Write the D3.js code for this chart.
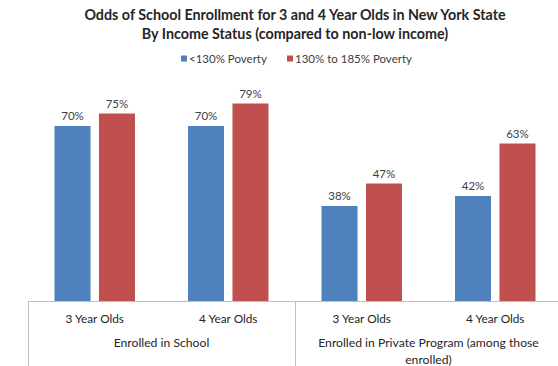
<!DOCTYPE html>
<html>
<head>
<meta charset="utf-8">
<script src="https://cdn.jsdelivr.net/npm/d3@7"></script>
<style>
  body { margin: 0; background: #fff; }
  svg { font-family: Lato, "Open Sans", sans-serif; }
</style>
</head>
<body>
<script>
let titleLines = ["Odds of School Enrollment for 3 and 4 Year Olds in New York State",
                  "By Income Status (compared to non-low income)"];
let seriesNames = ["<130% Poverty", "130% to 185% Poverty"];
let seriesColors = ["#4f81bd", "#c0504d"];
let ageLabels = ["3 Year Olds", "4 Year Olds", "3 Year Olds", "4 Year Olds"];
let groupLabels = [["Enrolled in School"], ["Enrolled in Private Program (among those", "enrolled)"]];
let below130 = [0.70, 0.70, 0.38, 0.42];
let from130to185 = [0.75, 0.79, 0.47, 0.63];

let w = 558;
let h = 366;
let x0 = 28, x1 = 562;
let base = 301;

let svg = d3.select("body")
  .append("svg")
  .attr("width", w)
  .attr("height", h);

// title
svg.selectAll("text.title")
  .data(titleLines)
  .enter()
  .append("text")
  .attr("class", "title")
  .attr("x", 295)
  .attr("y", (d, i) => 20 + i * 18.5)
  .attr("text-anchor", "middle")
  .attr("font-size", "14.3px")
  .attr("font-weight", "bold")
  .attr("fill", "#262626")
  .text(d => d);

// legend
let legendX = [181, 287];
let leg = svg.selectAll("g.legend")
  .data(seriesNames)
  .enter()
  .append("g")
  .attr("class", "legend")
  .attr("transform", (d, i) => "translate(" + legendX[i] + ",59)");
leg.append("rect")
  .attr("x", 0).attr("y", -3.5)
  .attr("width", 6).attr("height", 6)
  .attr("fill", (d, i) => seriesColors[i]);
leg.append("text")
  .attr("x", 8).attr("y", 4)
  .attr("font-size", "11.5px")
  .attr("fill", "#404040")
  .text(d => d);

let xScale = d3.scaleBand()
  .domain(d3.range(ageLabels.length))
  .range([x0, x1]);

let step = xScale.bandwidth();
let inner = d3.scaleBand()
  .domain([0, 1])
  .range([26.5, step - 26.5])
  .paddingInner(0.19);

let yScale = d3.scaleLinear()
  .domain([0, 1])
  .range([base, 51]);

let rows = ageLabels.map((a, i) => [below130[i], from130to185[i]]);

let groups = svg.selectAll("g.cat")
  .data(rows)
  .enter()
  .append("g")
  .attr("class", "cat")
  .attr("transform", (d, i) => "translate(" + xScale(i) + ",0)");

groups.selectAll("rect")
  .data(d => d)
  .enter()
  .append("rect")
  .attr("x", (d, j) => inner(j))
  .attr("y", d => yScale(d))
  .attr("width", inner.bandwidth())
  .attr("height", d => base - yScale(d))
  .attr("fill", (d, j) => seriesColors[j]);

groups.selectAll("text")
  .data(d => d)
  .enter()
  .append("text")
  .attr("x", (d, j) => inner(j) + inner.bandwidth() / 2)
  .attr("y", d => yScale(d) - 6)
  .attr("text-anchor", "middle")
  .attr("font-size", "11.5px")
  .attr("fill", "#404040")
  .text(d => d3.format(".0%")(d));

// axis line and dividers
svg.append("line")
  .attr("x1", x0).attr("x2", w)
  .attr("y1", base + 0.5).attr("y2", base + 0.5)
  .attr("stroke", "#bfbfbf");
[x0, xScale(2)].forEach(x => {
  svg.append("line")
    .attr("x1", x + 0.5).attr("x2", x + 0.5)
    .attr("y1", base).attr("y2", h)
    .attr("stroke", "#bfbfbf");
});

// category labels
svg.selectAll("text.age")
  .data(ageLabels)
  .enter()
  .append("text")
  .attr("class", "age")
  .attr("x", (d, i) => xScale(i) + step / 2)
  .attr("y", 323)
  .attr("text-anchor", "middle")
  .attr("font-size", "11.8px")
  .attr("fill", "#262626")
  .text(d => d);

groupLabels.forEach((lines, g) => {
  svg.selectAll("text.grp" + g)
    .data(lines)
    .enter()
    .append("text")
    .attr("x", xScale(g * 2) + step)
    .attr("y", (d, i) => 347 + i * 17)
    .attr("text-anchor", "middle")
    .attr("font-size", "12.2px")
    .attr("fill", "#262626")
    .text(d => d);
});
</script>
</body>
</html>
